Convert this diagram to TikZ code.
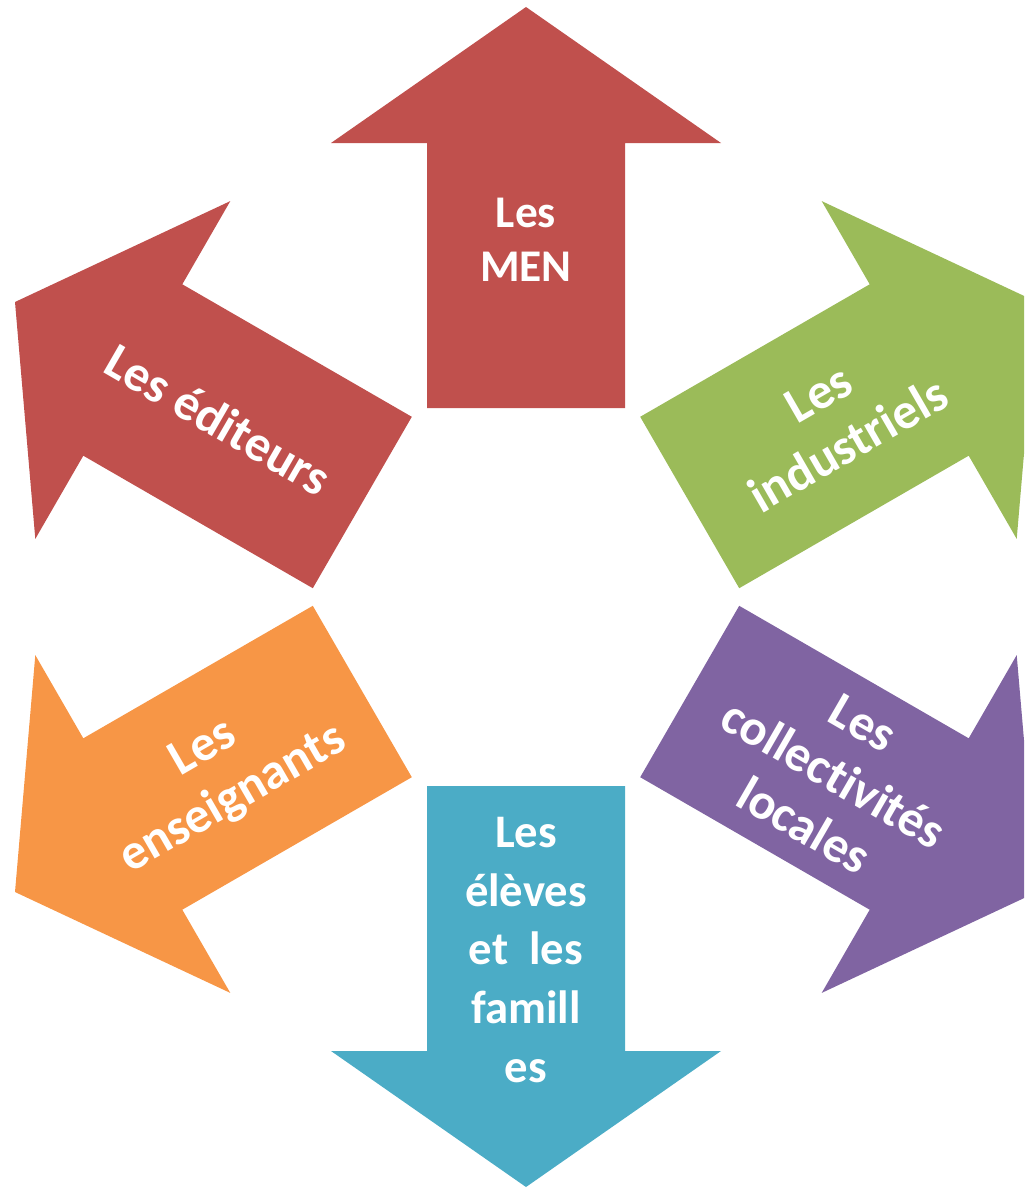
\documentclass[tikz,border=0pt]{standalone}
\usepackage{fontspec}
\setmainfont{Carlito}[Ligatures=NoCommon]
\usepackage{tikz}

\definecolor{arrowred}{RGB}{192,80,77}
\definecolor{arrowgreen}{RGB}{155,187,89}
\definecolor{arrowpurple}{RGB}{128,100,162}
\definecolor{arroworange}{RGB}{247,150,70}
\definecolor{arrowteal}{RGB}{75,172,198}

\begin{document}
\begin{tikzpicture}[x=0.75pt,y=0.75pt,yscale=-1,xscale=1,
  lbl/.style={text=white, inner sep=0.75pt, align=center, font=\bfseries\fontsize{38}{44.5}\selectfont},
  lblv/.style={lbl, font=\bfseries\fontsize{34}{40.5}\selectfont}]
  %set diagram as the page: 1024 wide, 1188 high
  \useasboundingbox (0,0) rectangle (1024,1188);
  \clip (0,0) rectangle (1024,1188);

  %Shape: Up Arrow
  \fill [arrowred] (427,408) -- (427,143) -- (331,143) -- (526,7) -- (721,143) -- (625,143) -- (625,408) -- cycle ;
  %Shape: Arrow up right
  \fill [arrowgreen] (640.2,416.8) -- (869.7,284.3) -- (821.7,201.1) -- (1037,302) -- (1016.7,538.9) -- (968.7,455.7) -- (739.2,588.2) -- cycle ;
  %Shape: Arrow down right
  \fill [arrowpurple] (739.2,605.8) -- (968.7,738.3) -- (1016.7,655.1) -- (1037,892) -- (821.7,992.9) -- (869.7,909.7) -- (640.2,777.2) -- cycle ;
  %Shape: Down Arrow
  \fill [arrowteal] (625,786) -- (625,1051) -- (721,1051) -- (526,1187) -- (331,1051) -- (427,1051) -- (427,786) -- cycle ;
  %Shape: Arrow down left
  \fill [arroworange] (411.8,777.2) -- (182.3,909.7) -- (230.3,992.9) -- (15,892) -- (35.3,655.1) -- (83.3,738.3) -- (312.8,605.8) -- cycle ;
  %Shape: Arrow up left
  \fill [arrowred] (312.8,588.2) -- (83.3,455.7) -- (35.3,538.9) -- (15,302) -- (230.3,201.1) -- (182.3,284.3) -- (411.8,416.8) -- cycle ;

  % Text Node
  \draw (526,240) node (men) [lblv] {Les\\MEN};
  % Text Node
  \draw (833.4,419.5) node (industriels) [lbl, rotate=30] {Les\\industriels};
  % Text Node
  \draw (833.4,774.5) node (collectivites) [lbl, rotate=-30] {Les\\collectivités\\locales};
  % Text Node
  \draw (526,950) node (eleves) [lbl, font=\bfseries\fontsize{35}{44}\selectfont] {Les\\élèves\\et\ \ les\\famill\\es};
  % Text Node
  \draw (218.6,774.5) node (enseignants) [lbl, rotate=30] {Les\\enseignants};
  % Text Node
  \draw (218.6,419.5) node (editeurs) [lbl, rotate=-30] {Les éditeurs};

\end{tikzpicture}
\end{document}
